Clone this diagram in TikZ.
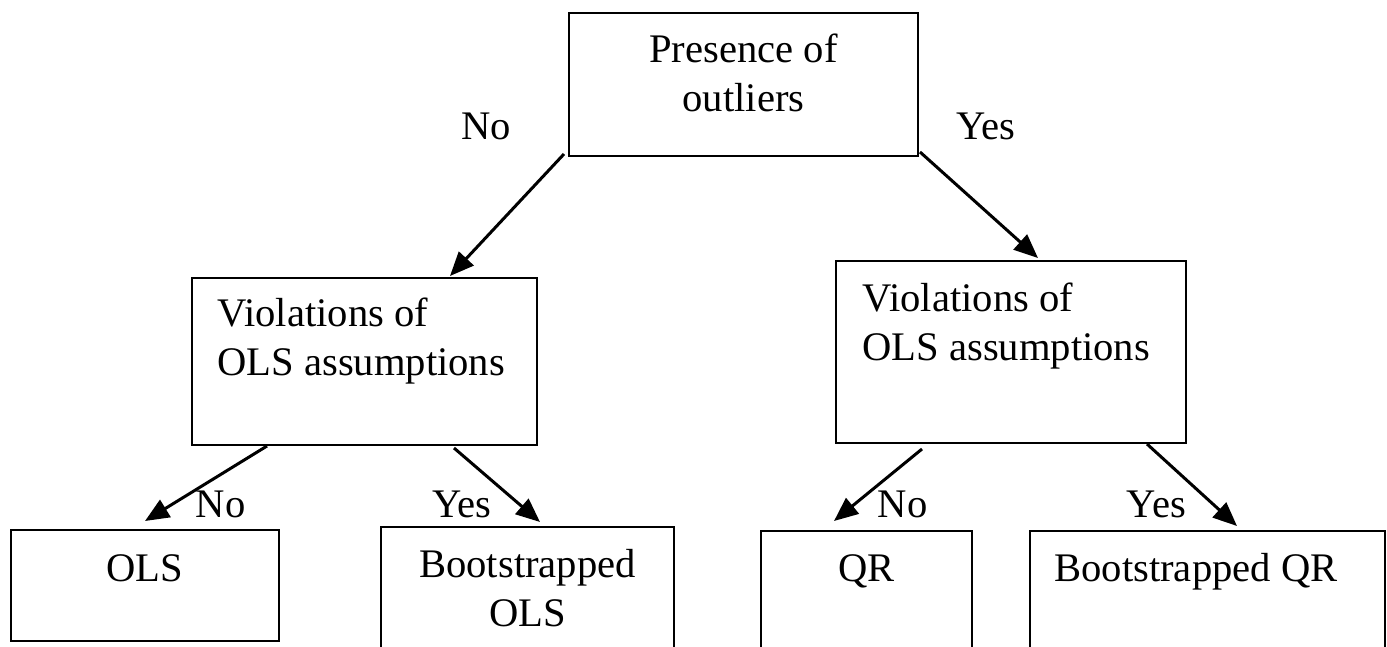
\documentclass[tikz,border=0pt]{standalone}
\usepackage{fontspec}
\setmainfont{Liberation Serif}
\usetikzlibrary{arrows.meta, positioning}

\begin{document}
\begin{tikzpicture}[
    x=0.5pt, y=-0.5pt,
    box/.style={draw, line width=1pt, inner sep=0pt},
    txt/.style={inner sep=0pt, font=\fontsize{20.3}{24.5}\selectfont},
    lbl/.style={txt, anchor=base},
    arr/.style={-{Triangle[length=12pt, width=10pt]}, line width=1.5pt},
]
\useasboundingbox (0,0) rectangle (1387,647);

% Root
\node[box, minimum width=174.5pt, minimum height=71.5pt] (outliers) at (743.5,84.5) {};
\node[txt, align=center, below=11pt of outliers.north] (outliers-txt) {Presence of\\outliers};

% Second level
\node[box, minimum width=172.5pt, minimum height=83.5pt] (violno) at (364.5,361.5) {};
\node[txt, align=left, below right=10.5pt and 13pt of violno.north west] (violno-txt) {Violations of\\OLS assumptions};
\node[box, minimum width=175pt, minimum height=91pt] (violyes) at (1011,352) {};
\node[txt, align=left, below right=11.5pt and 13.5pt of violyes.north west] (violyes-txt) {Violations of\\OLS assumptions};

% Leaves (cut off at the bottom edge)
\node[box, minimum width=134pt, minimum height=55.5pt] (ols) at (145,585.5) {};
\node[txt, below=12.5pt of ols.north] (ols-txt) {OLS};
\node[box, minimum width=146.5pt, minimum height=69pt] (bols) at (527.5,596) {};
\node[txt, align=center, below=11.5pt of bols.north] (bols-txt) {Bootstrapped\\OLS};
\node[box, minimum width=105.5pt, minimum height=67pt] (qr) at (866.5,598) {};
\node[txt, below=12pt of qr.north] (qr-txt) {QR};
\node[box, minimum width=177.5pt, minimum height=67pt] (bqr) at (1207.5,598) {};
\node[txt, below right=11.5pt and 12.5pt of bqr.north west] (bqr-txt) {Bootstrapped QR};

% Branch labels
\node[lbl] (no-top) at (486,140) {No};
\node[lbl] (yes-top) at (986,140) {Yes};
\node[lbl] (no-left) at (220.5,517) {No};
\node[lbl] (yes-left) at (462,517) {Yes};
\node[lbl] (no-right) at (902.5,517) {No};
\node[lbl] (yes-right) at (1156.5,517) {Yes};

% Arrows
\draw[arr] ([xshift=-2pt, yshift=1.5pt]outliers.south west) -- ([xshift=42.75pt, yshift=0.5pt]violno.north);
\draw[arr] ([xshift=0.5pt, yshift=2.5pt]outliers.south east) -- ([xshift=13.5pt, yshift=1pt]violyes.north);
\draw[arr] ([xshift=-48.75pt]violno.south) -- ([yshift=4pt]ols.north);
\draw[arr] ([xshift=44.75pt, yshift=-1pt]violno.south) -- ([xshift=6.25pt, yshift=2pt]bols.north);
\draw[arr] ([xshift=-44.5pt, yshift=-2.5pt]violyes.south) -- ([xshift=-16.25pt, yshift=4.5pt]qr.north);
\draw[arr] ([xshift=68pt]violyes.south) -- ([xshift=14.75pt, yshift=2pt]bqr.north);

\end{tikzpicture}
\end{document}
